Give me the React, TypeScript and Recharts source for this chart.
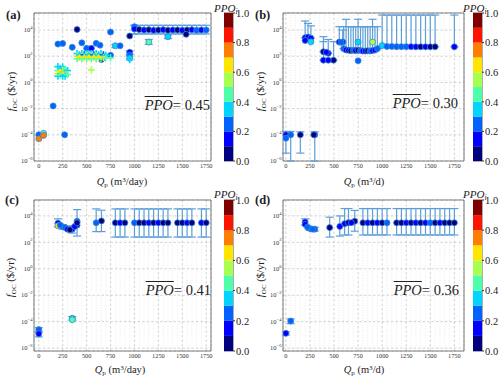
import React from 'react';
import {
  ScatterChart, Scatter, XAxis, YAxis, CartesianGrid, ErrorBar,
  ReferenceLine, ReferenceArea, BarChart, Bar,
} from 'recharts';

// ---------------- data ----------------
const X_TICKS = [0, 250, 500, 750, 1000, 1250, 1500, 1750];
const Y_TICKS = [1e-6, 1e-4, 1e-2, 1, 1e2, 1e4];
const CB_LEVELS = [0, 0.1, 0.2, 0.3, 0.4, 0.5, 0.6, 0.7, 0.8, 0.9, 1.0];
const CB_TICKS = [0, 0.2, 0.4, 0.6, 0.8, 1.0];
const PPO_MEAN = ['0.45', '0.30', '0.41', '0.36'];
const PANEL_TAGS = ['(a)', '(b)', '(c)', '(d)'];
const X_UNITS = ['day', 'd', 'day', 'd'];

// Panel (a) circles
const A_Q = [0, 0, 50, 50, 150, 270, 200, 250, 250, 350, 400, 450, 500, 550, 600, 640, 655, 750, 750, 800, 850, 950, 950, 950, 950, 1150, 1350, 1540];
const A_F = [1e-4, 5e-5, 1.3e-4, 9e-5, 0.016, 1e-4, 850, 950, 6, 480, 11000, 1050, 400, 400, 960, 700, 57, 7000, 120, 630, 620, 3500, 200, 120, 70, 1200, 3100, 4700];
const A_P = [0.25, 0.75, 0.42, 0.75, 0.25, 0.25, 0.2, 0.2, 0.1, 0.22, 0.05, 0.25, 0.2, 0.15, 0.25, 0.2, 0.12, 0.25, 0.25, 0.38, 0.25, 0.08, 0.15, 0.2, 0.38, 0.45, 0.35, 0.08];
const A_LO = [null, null, null, null, null, null, null, null, null, null, null, null, null, null, null, null, null, null, null, 450, null, null, 140, null, null, 800, 2200, null];
const A_HI = [null, null, null, null, null, null, null, null, null, null, null, null, null, null, null, null, null, null, null, 800, null, null, 260, null, null, 1900, 4200, null];
// Panel (a) dense row near 1e4
const A_ROW_Q = [1000, 1000, 1050, 1100, 1150, 1200, 1250, 1300, 1350, 1400, 1450, 1500, 1550, 1600, 1650, 1700, 1750];
const A_ROW_F = [18000, 12000, 11000, 10000, 10500, 9500, 10000, 10500, 9500, 10000, 10000, 9500, 10000, 10500, 9500, 10000, 10000];
const A_ROW_P = [0.25, 0.15, 0.08, 0.15, 0.08, 0.12, 0.08, 0.15, 0.08, 0.12, 0.08, 0.15, 0.08, 0.12, 0.22, 0.15, 0.22];
const A_ROW_LO = 5000;
const A_ROW_HI = 23000;
// Panel (a) plus-shaped markers
const A_XQ = [200, 200, 200, 200, 225, 225, 225, 250, 250, 250, 250, 275, 275, 275, 300, 300,
  400, 400, 400, 425, 425, 450, 450, 450, 475, 475, 500, 500, 500, 525, 525, 550, 550, 550, 575, 575, 600, 600, 600, 625, 625, 650, 650, 650, 675, 675, 700, 700,
  550, 750, 950];
const A_XF = [16, 8, 4.5, 3, 12, 6, 3.5, 15, 8, 4.5, 3, 10, 5, 3, 8, 4,
  160, 100, 65, 130, 80, 160, 100, 65, 130, 80, 160, 100, 65, 130, 80, 160, 100, 65, 130, 80, 160, 100, 65, 130, 80, 160, 100, 65, 130, 80, 120, 75,
  9, 75, 55];
const A_XP = [0.35, 0.45, 0.65, 0.35, 0.32, 0.65, 0.45, 0.35, 0.65, 0.45, 0.38, 0.45, 0.65, 0.35, 0.35, 0.45,
  0.35, 0.65, 0.45, 0.3, 0.62, 0.35, 0.65, 0.45, 0.25, 0.6, 0.35, 0.65, 0.45, 0.3, 0.62, 0.35, 0.65, 0.45, 0.25, 0.6, 0.35, 0.65, 0.42, 0.3, 0.62, 0.35, 0.65, 0.45, 0.25, 0.6, 0.35, 0.45,
  0.55, 0.45, 0.35];

// Panel (b)
const B_Q = [0, 0, 50, 150, 290, 300,
  200, 200, 230, 260, 260,
  390, 420, 440, 390, 440, 495,
  555, 575, 590,
  600, 625, 650, 675, 700, 725, 750, 775, 800, 825, 850, 875, 900, 925, 950,
  750, 750, 900,
  1000, 1050, 1100, 1150, 1200, 1250, 1300, 1350, 1400, 1450, 1500, 1550, 1750];
const B_F = [1e-4, 5.5e-5, 1e-4, 1e-4, 1e-4, 1e-4,
  2600, 1600, 2900, 2400, 1250,
  220, 200, 170, 50, 50, 50,
  1200, 1150, 1200,
  380, 300, 280, 270, 280, 270, 290, 270, 250, 250, 260, 250, 270, 300, 380,
  45, 1200, 1200,
  650, 560, 560, 540, 540, 540, 540, 520, 520, 520, 520, 530, 520];
const B_P = [0.15, 0.22, 0.2, 0.08, 0.08, 0.12,
  0.12, 0.15, 0.1, 0.12, 0.35,
  0.08, 0.12, 0.1, 0.15, 0.15, 0.08,
  0.1, 0.2, 0.12,
  0.2, 0.12, 0.15, 0.08, 0.2, 0.15, 0.08, 0.2, 0.12, 0.15, 0.08, 0.2, 0.15, 0.12, 0.22,
  0.2, 0.35, 0.52,
  0.32, 0.28, 0.25, 0.2, 0.25, 0.2, 0.15, 0.12, 0.08, 0.12, 0.08, 0.08, 0.12];
const B_LO = [4e-6, null, 1e-6, 4e-6, null, 1e-6,
  2600, null, 2900, 2400, null,
  220, null, 170, 50, null, 50,
  1200, null, 1200,
  380, 300, 280, 270, 280, 270, 290, 270, 250, 250, 260, 250, 270, 300, 380,
  null, null, null,
  650, 560, 560, 540, 540, 540, 540, 520, 520, 520, 520, 530, 520];
const B_HI = [1.8e-4, null, 1.8e-4, 1.7e-4, null, 1.7e-4,
  49000, null, 32000, 21000, null,
  3100, null, 1900, 1300, null, 1300,
  18000, null, 10000,
  18000, 66000, 18000, 18000, 18000, 18000, 66000, 18000, 18000, 18000, 18000, 18000, 66000, 18000, 18000,
  null, null, null,
  140000, 140000, 140000, 140000, 140000, 140000, 140000, 140000, 140000, 140000, 140000, 140000, 140000];

// Panel (c)
const C_Q = [0, 0, 350, 350,
  200, 200, 225, 250, 275, 300, 325, 350, 375, 400, 400, 400,
  600, 655,
  800, 850, 900, 1000, 1050, 1100, 1150, 1200, 1250, 1300, 1350, 1450, 1500, 1550, 1600, 1700, 1750];
const C_F = [2.5e-5, 1.2e-5, 1.8e-4, 1.4e-4,
  2800, 1800, 2000, 1500, 1300, 1000, 900, 1000, 1600, 2000, 4000, 3000,
  3000, 4200,
  3000, 3000, 3000, 3000, 3000, 3000, 3000, 3000, 3000, 3000, 3000, 3000, 3000, 3000, 3000, 3000, 3000];
const C_P = [0.2, 0.15, 0.3, 0.45,
  0.15, 0.62, 0.25, 0.28, 0.2, 0.12, 0.08, 0.15, 0.1, 0.15, 0.2, 0.08,
  0.2, 0.08,
  0.08, 0.1, 0.05, 0.2, 0.05, 0.08, 0.1, 0.05, 0.12, 0.08, 0.05, 0.08, 0.05, 0.1, 0.08, 0.15, 0.08];
const C_LO = [1.6e-5, 7e-6, 1.3e-4, null,
  1500, null, null, 1000, null, null, null, 500, null, 300, null, null,
  650, 650,
  250, 250, 250, 250, 250, 250, 250, 250, 250, 250, 250, 250, 250, 250, 250, 250, 250];
const C_HI = [3.5e-5, 1.8e-5, 2.4e-4, null,
  6000, null, null, 2200, null, null, null, 1800, null, 30000, null, null,
  34000, 27000,
  34000, 34000, 34000, 34000, 34000, 34000, 34000, 34000, 34000, 34000, 34000, 34000, 34000, 34000, 34000, 34000, 34000];

// Panel (d)
const D_Q = [0, 50,
  200, 200, 225, 250, 275, 300,
  455, 560,
  610, 650, 680, 715,
  800, 850, 900, 950, 1000, 1050,
  1150, 1200, 1250, 1300, 1350, 1400, 1450, 1500, 1550, 1600, 1650, 1700, 1750];
const D_F = [1.3e-5, 1.1e-4,
  3500, 2300, 1400, 1100, 1000, 1000,
  1300, 1600,
  2600, 3100, 3100, 4000,
  3000, 3000, 3000, 3000, 3000, 3000,
  3000, 3000, 3000, 3000, 3000, 3000, 3000, 3000, 3000, 3000, 3000, 3000, 3000];
const D_P = [0.1, 0.2,
  0.15, 0.1, 0.25, 0.25, 0.2, 0.22,
  0.05, 0.1,
  0.12, 0.08, 0.1, 0.05,
  0.05, 0.1, 0.05, 0.15, 0.05, 0.25,
  0.05, 0.08, 0.15, 0.05, 0.15, 0.05, 0.1, 0.25, 0.05, 0.12, 0.05, 0.08, 0.05];
const D_LO = [1e-5, 7e-5,
  2000, null, null, 800, null, 700,
  250, 300,
  360, 360, null, 700,
  360, 360, 360, 360, 360, 360,
  360, 360, 360, 360, 360, 360, 360, 360, 360, 360, 360, 360, 360];
const D_HI = [1.7e-5, 1.6e-4,
  6000, null, null, 1500, null, 1400,
  8000, 10000,
  36000, 36000, null, 26000,
  36000, 36000, 36000, 36000, 36000, 36000,
  36000, 36000, 36000, 36000, 36000, 36000, 36000, 36000, 36000, 36000, 36000, 36000, 36000];

// ---------------- styling / helpers ----------------
const JET10 = ['#000080', '#0000ff', '#0063ff', '#00d4ff', '#4effa9', '#a9ff4e', '#ffe600', '#ff7d00', '#ff1400', '#800000'];
const colorOf = (p: number) => JET10[Math.max(0, Math.min(9, Math.floor(p * 10 + 1e-9)))];
const FONT = '"Liberation Serif", "Times New Roman", serif';
const ERR_COLOR = '#5c9fd8';

type Pt = { q: number; f: number; p: number; err: [number, number] | null };

function build(Q: number[], F: number[], P: number[], LO: (number | null)[], HI: (number | null)[]): Pt[] {
  return Q.map((q, i) => {
    const lo = LO[i];
    const hi = HI[i];
    return {
      q, f: F[i], p: P[i],
      err: lo != null && hi != null ? [F[i] - lo, hi - F[i]] as [number, number] : null,
    };
  });
}

const aRow = build(A_ROW_Q, A_ROW_F, A_ROW_P, A_ROW_Q.map(() => A_ROW_LO), A_ROW_Q.map(() => A_ROW_HI));
const PANELS = [
  { pts: build(A_Q, A_F, A_P, A_LO, A_HI).concat(aRow), crosses: A_XQ.map((q, i) => ({ q, f: A_XF[i], p: A_XP[i] })) },
  { pts: build(B_Q, B_F, B_P, B_LO, B_HI), crosses: [] as any[] },
  { pts: build(C_Q, C_F, C_P, C_LO, C_HI), crosses: [] as any[] },
  { pts: build(D_Q, D_F, D_P, D_LO, D_HI), crosses: [] as any[] },
];

// layout
const GEOM = [
  { left: 0, top: 0, h: 190, mt: 13, mr: 39, yw: 34, xh: 29, xd: [-50, 1800], yd: [1e-6, 2e5], cbLeft: 224, labX: 122, labY: 182, ylX: 11.5, ylY: 91, ppoR: 210, ppoY: 105, tagX: 6, tagY: 15, cbtX: 214, cbtY: 8 },
  { left: 250, top: 0, h: 190, mt: 13, mr: 36, yw: 33, xd: [-30, 1850], xh: 29, yd: [1e-6, 2e5], cbLeft: 473, labX: 364, labY: 182, ylX: 261, ylY: 91, ppoR: 458, ppoY: 103, tagX: 255, tagY: 15, cbtX: 463, cbtY: 8 },
  { left: 0, top: 190, h: 189, mt: 10, mr: 39, yw: 34, xh: 28, xd: [-50, 1800], yd: [6e-7, 1.6e5], cbLeft: 224, labX: 120, labY: 370, ylX: 11, ylY: 277, ppoR: 211, ppoY: 290, tagX: 5, tagY: 200, cbtX: 214, cbtY: 194 },
  { left: 250, top: 190, h: 189, mt: 10, mr: 36, yw: 33, xh: 28, xd: [-30, 1850], yd: [6e-7, 1.6e5], cbLeft: 473, labX: 364, labY: 370, ylX: 261, ylY: 277, ppoR: 459, ppoY: 290, tagX: 255, tagY: 200, cbtX: 463, cbtY: 194 },
];

const MINOR_X: number[] = [];
for (let v = -50; v <= 1850; v += 50) if (v % 250 !== 0) MINOR_X.push(v);

const YTick = (props: any) => {
  const { x, y, payload } = props;
  const e = Math.round(Math.log10(payload.value));
  return (
    <text x={x} y={y} dy={2.2} textAnchor="end" fontSize={6.5} fill="#333" fontFamily={FONT}>
      10<tspan dy={-3.2} fontSize={4.6}>{e < 0 ? '\u2212' + -e : String(e)}</tspan>
    </text>
  );
};
const XTick = (props: any) => {
  const { x, y, payload } = props;
  return (
    <text x={x} y={y} dy={4.6} textAnchor="middle" fontSize={6.3} fill="#333" fontFamily={FONT}>
      {payload.value}
    </text>
  );
};

const dotShape = (props: any) => {
  const { cx, cy, payload } = props;
  if (cx == null || cy == null || !isFinite(cx) || !isFinite(cy)) return <g />;
  return <circle cx={cx} cy={cy} r={3} fill={colorOf(payload.p)} stroke="#3f86cf" strokeWidth={0.8} />;
};
const crossShape = (props: any) => {
  const { cx, cy, payload } = props;
  if (cx == null || cy == null || !isFinite(cx) || !isFinite(cy)) return <g />;
  const c = colorOf(payload.p);
  const s = 3.6;
  return (
    <g>
      <line x1={cx - s} x2={cx + s} y1={cy} y2={cy} stroke={c} strokeWidth={1.6} />
      <line x1={cx} x2={cx} y1={cy - s} y2={cy + s} stroke={c} strokeWidth={1.6} />
    </g>
  );
};

function Panel({ idx }: { idx: number }) {
  const g = GEOM[idx];
  const d = PANELS[idx];
  const withErr = d.pts.filter((p) => p.err);
  const noErr = d.pts.filter((p) => !p.err);
  return (
    <div style={{ position: 'absolute', left: g.left, top: g.top }}>
      <ScatterChart width={250} height={g.h} margin={{ top: g.mt, right: g.mr, left: 0, bottom: 0 }}>
        <CartesianGrid stroke="#b5b5b5" strokeDasharray="2.5 2" strokeWidth={0.6} />
        {MINOR_X.filter((v) => v > g.xd[0] && v < g.xd[1]).map((v) => (
          <ReferenceLine key={v} x={v} stroke="#d6d6d6" strokeDasharray="1 1.5" strokeWidth={0.5} />
        ))}
        <XAxis type="number" dataKey="q" domain={g.xd} allowDataOverflow ticks={X_TICKS} interval={0}
          tick={<XTick />} tickLine={false} axisLine={false} tickSize={0} tickMargin={2} height={g.xh} />
        <YAxis type="number" dataKey="f" scale="log" domain={g.yd} allowDataOverflow ticks={Y_TICKS} interval={0}
          tick={<YTick />} tickLine={false} axisLine={false} tickSize={0} tickMargin={1.5} width={g.yw} />
        <Scatter data={withErr} shape={dotShape} isAnimationActive={false}>
          <ErrorBar dataKey="err" direction="y" width={4} stroke={ERR_COLOR} strokeWidth={1.2} />
        </Scatter>
        <Scatter data={noErr} shape={dotShape} isAnimationActive={false} />
        {d.crosses.length > 0 && <Scatter data={d.crosses} shape={crossShape} isAnimationActive={false} />}
        <ReferenceArea x1={g.xd[0]} x2={g.xd[1]} y1={g.yd[0]} y2={g.yd[1]} fill="none" stroke="#5a5a5a" strokeWidth={0.8} ifOverflow="visible" />
      </ScatterChart>
    </div>
  );
}

function ColorBar({ idx }: { idx: number }) {
  const g = GEOM[idx];
  const row: any = { k: 'cb' };
  CB_LEVELS.slice(1).forEach((v, i) => { row['s' + i] = v - CB_LEVELS[i]; });
  return (
    <div style={{ position: 'absolute', left: g.cbLeft, top: g.top }}>
      <BarChart width={40} height={g.h} data={[row]} margin={{ top: g.mt, bottom: g.xh, left: 0, right: 0 }} barCategoryGap={0}>
        <XAxis dataKey="k" hide />
        <YAxis orientation="right" width={31} domain={[0, 1]} ticks={CB_TICKS} interval={0}
          tickFormatter={(v: number) => v.toFixed(1)} tick={{ fontSize: 10.5, fill: '#222', fontFamily: FONT }}
          tickSize={2} tickMargin={1} axisLine={false} stroke="#333" />
        {JET10.map((c, i) => (
          <Bar key={i} dataKey={'s' + i} stackId="cb" fill={c} isAnimationActive={false} />
        ))}
        <ReferenceArea y1={0} y2={1} fill="none" stroke="#333" strokeWidth={0.8} ifOverflow="visible" />
      </BarChart>
    </div>
  );
}

function Texts({ idx }: { idx: number }) {
  const g = GEOM[idx];
  const sm: React.CSSProperties = { fontSize: '0.68em', position: 'relative' };
  return (
    <>
      <div style={{ position: 'absolute', left: g.tagX, top: g.tagY - 7, fontSize: 12.5, fontWeight: 'bold', lineHeight: '14px' }}>
        {PANEL_TAGS[idx]}
      </div>
      <div style={{ position: 'absolute', left: g.labX - 60, width: 120, top: g.labY - 7, textAlign: 'center', fontSize: 10.5, lineHeight: '14px', whiteSpace: 'nowrap' }}>
        <i>Q</i><span style={{ ...sm, top: '0.35em' }}>p</span> (m<span style={{ ...sm, top: '-0.45em' }}>3</span>/{X_UNITS[idx]})
      </div>
      <div style={{ position: 'absolute', left: g.ylX - 40, width: 80, top: g.ylY - 7, textAlign: 'center', fontSize: 10.5, lineHeight: '14px', whiteSpace: 'nowrap', transform: 'rotate(-90deg)' }}>
        <i>f</i><span style={{ ...sm, top: '0.35em' }}>OC</span> ($/yr)
      </div>
      <div style={{ position: 'absolute', right: 500 - g.ppoR, top: g.ppoY - 9, fontSize: 14.5, lineHeight: '18px', whiteSpace: 'nowrap' }}>
        <i style={{ textDecoration: 'overline' }}>PPO</i>= {PPO_MEAN[idx]}
      </div>
      <div style={{ position: 'absolute', left: g.cbtX, top: g.cbtY - 6, fontSize: 11, lineHeight: '12px', whiteSpace: 'nowrap' }}>
        <i>PPO</i><span style={{ ...sm, top: '0.3em' }}><i>i</i></span>
      </div>
    </>
  );
}

export default function App() {
  return (
    <div style={{ position: 'absolute', left: 0, top: 0, width: 500, height: 379, overflow: 'hidden', background: '#fff', fontFamily: FONT, color: '#222' }}>
      {[0, 1, 2, 3].map((i) => <Panel key={'p' + i} idx={i} />)}
      {[0, 1, 2, 3].map((i) => <ColorBar key={'c' + i} idx={i} />)}
      {[0, 1, 2, 3].map((i) => <Texts key={'t' + i} idx={i} />)}
    </div>
  );
}
